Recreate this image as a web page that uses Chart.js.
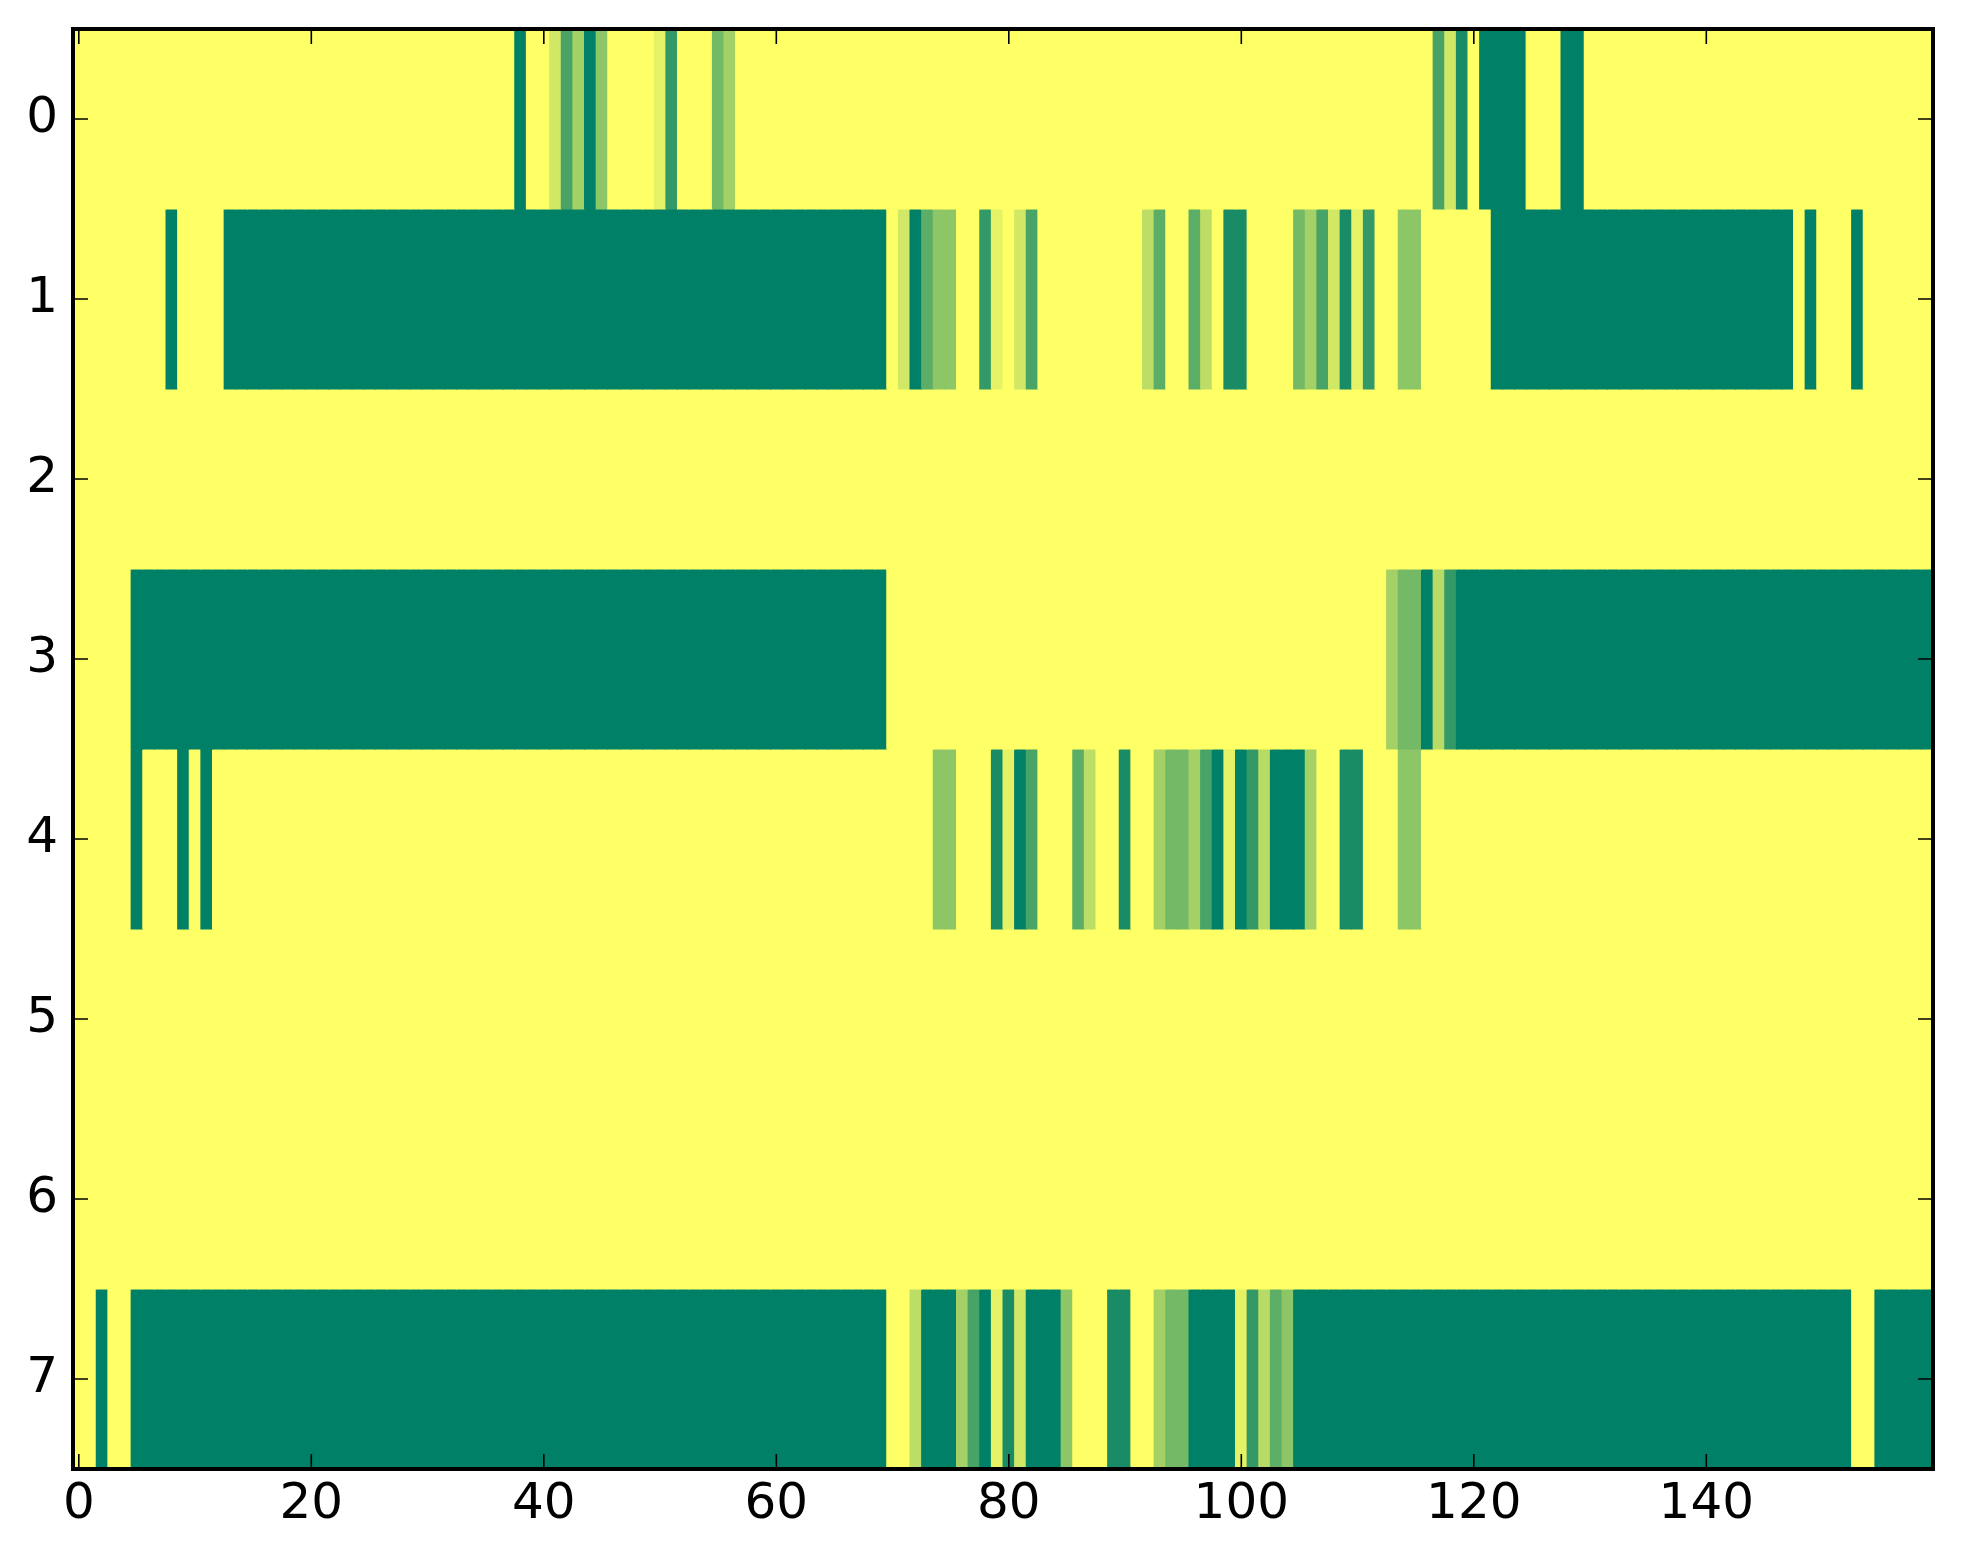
<!DOCTYPE html>
<html lang="en">
<head>
    <meta charset="UTF-8">
    <title>Heatmap</title>
    <script src="https://cdn.jsdelivr.net/npm/chart.js"></script>
    <style>
        html, body { margin: 0; padding: 0; background: #fff; }
        canvas { display: block; }
    </style>
</head>
<body>
    <canvas id="heatmap" width="1963" height="1564"></canvas>

    <script>
        // number of columns and rows in the image
        const nCols = 160;
        const rowLabels = [0, 1, 2, 3, 4, 5, 6, 7];
        const xTicks = [0, 20, 40, 60, 80, 100, 120, 140];

        // cell values, as runs [firstCol, lastCol, value];
        // every cell not listed is 0
        const row0 = [[38,38,1],[41,41,0.18],[42,42,0.72],[43,43,0.36],[44,44,1],[45,45,0.45],
            [50,50,0.1],[51,51,0.8],[55,55,0.55],[56,56,0.36],
            [117,117,0.72],[118,118,0.18],[119,119,0.9],[121,124,1],[128,129,1]];
        const row1 = [[8,8,1],[13,69,1],[71,71,0.18],[72,72,1],[73,73,0.64],[74,75,0.45],
            [78,78,0.8],[79,79,0.1],[81,81,0.18],[82,82,0.72],
            [92,92,0.26],[93,93,0.64],[96,96,0.64],[97,97,0.26],[99,100,0.9],
            [105,105,0.55],[106,106,0.36],[107,107,0.72],[108,108,0.18],[109,109,0.9],
            [110,110,0.1],[111,111,0.8],[114,115,0.45],
            [122,147,1],[149,149,1],[153,153,1]];
        const row2 = [];
        const row3 = [[5,69,1],[113,113,0.36],[114,115,0.55],[116,116,1],[117,117,0.28],
            [118,118,0.8],[119,159,1]];
        const row4 = [[5,5,1],[9,9,1],[11,11,1],
            [74,75,0.45],[79,79,0.9],[80,80,0.1],[81,81,1],[82,82,0.72],
            [86,86,0.64],[87,87,0.26],[90,90,0.9],[93,93,0.36],[94,95,0.55],[96,96,0.36],
            [97,97,0.72],[98,98,1],[99,99,0.1],[100,100,1],[101,101,0.8],[102,102,0.28],
            [103,105,1],[106,106,0.36],[109,110,0.9],[114,115,0.45]];
        const row5 = [];
        const row6 = [];
        const row7 = [[2,2,1],[5,69,1],[72,72,0.26],[73,75,1],[76,76,0.36],[77,77,0.72],
            [78,78,1],[79,79,0.1],[80,80,0.9],[81,81,0.18],[82,84,1],[85,85,0.45],
            [89,90,0.9],[93,93,0.36],[94,95,0.55],[96,99,1],[100,100,0.1],[101,101,0.8],
            [102,102,0.28],[103,103,0.64],[104,104,0.45],[105,152,1],[155,159,1]];

        const allRows = [row0, row1, row2, row3, row4, row5, row6, row7];

        // matplotlib "summer_r": 0 -> yellow, 1 -> dark green
        function summerR(v) {
            const r = Math.round(255 * (1 - v));
            const g = Math.round(255 * (1 - v / 2));
            return `rgb(${r},${g},102)`;
        }

        function expandRow(runs) {
            const cells = new Array(nCols).fill(0);
            runs.forEach(([a, b, v]) => {
                for (let c = a; c <= b; c++) cells[c] = v;
            });
            return cells;
        }

        // one dataset per image row, one floating bar per cell
        const datasets = allRows.map((runs, r) => ({
            data: expandRow(runs).map((v, c) => ({ x: c, y: [r - 0.5, r + 0.5], v: v })),
            backgroundColor: ctx => summerR(ctx.raw.v),
            borderWidth: 0,
            inflateAmount: 0.5,
            grouped: false,
            barPercentage: 1,
            categoryPercentage: 1
        }));

        // inward ticks on all four sides plus the black frame
        const framePlugin = {
            id: 'frame',
            afterDraw(chart) {
                const ctx = chart.ctx;
                const a = chart.chartArea;
                const xs = chart.scales.x, ys = chart.scales.y;
                const len = 15;
                ctx.save();
                ctx.strokeStyle = '#000';
                ctx.lineWidth = 1.6;
                ctx.beginPath();
                xTicks.forEach(t => {
                    const px = xs.getPixelForValue(t);
                    ctx.moveTo(px, a.bottom); ctx.lineTo(px, a.bottom - len);
                    ctx.moveTo(px, a.top); ctx.lineTo(px, a.top + len);
                });
                rowLabels.forEach(t => {
                    const py = ys.getPixelForValue(t);
                    ctx.moveTo(a.left, py); ctx.lineTo(a.left + len, py);
                    ctx.moveTo(a.right, py); ctx.lineTo(a.right - len, py);
                });
                ctx.stroke();
                ctx.lineWidth = 4;
                ctx.strokeRect(a.left, a.top, a.right - a.left, a.bottom - a.top);
                ctx.restore();
            }
        };

        const tickFont = { family: 'DejaVu Sans', size: 50 };

        new Chart(document.getElementById('heatmap'), {
            type: 'bar',
            data: { datasets: datasets },
            options: {
                responsive: false,
                animation: false,
                devicePixelRatio: 1,
                layout: { padding: { top: 29, right: 30, left: 0, bottom: 0 } },
                plugins: {
                    legend: { display: false },
                    tooltip: { enabled: false }
                },
                scales: {
                    x: {
                        type: 'linear',
                        offset: false,
                        min: -0.5,
                        max: nCols - 0.5,
                        grid: { display: false, offset: false },
                        border: { display: false },
                        afterBuildTicks: s => { s.ticks = xTicks.map(v => ({ value: v })); },
                        afterFit: s => { s.height = 95; s.paddingLeft = 0; s.paddingRight = 0; },
                        ticks: { color: '#000', font: tickFont, padding: -2, maxRotation: 0 }
                    },
                    y: {
                        type: 'linear',
                        reverse: true,
                        min: -0.5,
                        max: rowLabels.length - 0.5,
                        grid: { display: false },
                        border: { display: false },
                        afterBuildTicks: s => { s.ticks = rowLabels.map(v => ({ value: v })); },
                        afterFit: s => { s.width = 73; s.paddingTop = 0; s.paddingBottom = 0; },
                        ticks: { color: '#000', font: tickFont, padding: 7 }
                    }
                }
            },
            plugins: [framePlugin]
        });
    </script>
</body>
</html>
